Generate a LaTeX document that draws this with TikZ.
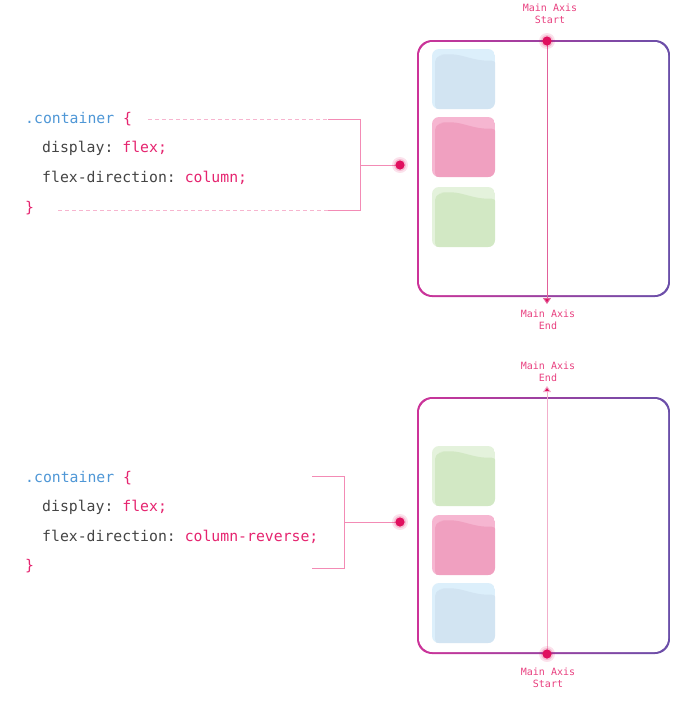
\documentclass[tikz,border=0pt]{standalone}
\usepackage{fontspec}
\setmonofont{DejaVu Sans Mono}
\usetikzlibrary{arrows.meta}
\definecolor{codeblue}{HTML}{4F97D6}
\definecolor{codepink}{HTML}{E5246F}
\definecolor{codegray}{HTML}{444444}
\definecolor{brk}{HTML}{F38BB5}
\definecolor{brkdash}{HTML}{F7B5CF}
\definecolor{lblpink}{HTML}{E8407F}
\definecolor{dotpink}{HTML}{E0105F}
\definecolor{axispink}{HTML}{E2609A}
\definecolor{axislight}{HTML}{F2AECB}
\definecolor{borderL}{HTML}{CC3399}
\definecolor{borderR}{HTML}{6A4FA9}
\definecolor{bluelt}{HTML}{DCEFFB}
\definecolor{bluedk}{HTML}{D2E4F2}
\definecolor{pinklt}{HTML}{F6B6D1}
\definecolor{pinkdk}{HTML}{F0A0C0}
\definecolor{greenlt}{HTML}{E4F2DC}
\definecolor{greendk}{HTML}{D2E8C4}
\tikzset{
  code/.style={anchor=base west, inner sep=0pt, font=\fontsize{14.8}{17}\selectfont\ttfamily, text=codegray},
  axlabel/.style={align=center, inner sep=0pt, font=\fontsize{10}{12.5}\selectfont\ttfamily, text=lblpink},
  brkline/.style={draw=brk, line width=1pt},
  brkdashed/.style={draw=brkdash, line width=1pt, dash pattern=on 4pt off 3pt},
  axisline/.style={line width=1pt},
  axtip/.style={-{Triangle[width=8pt,length=6pt,fill=dotpink]}},
}
\newcommand\flexitem[4]{%
  \begin{scope}
    \clip[rounded corners=7pt] (#1,#2) rectangle ++(63,60);
    \fill[#3] (#1,#2) rectangle ++(63,60);
    \fill[#4, rounded corners=5pt] (#1+3,#2+61) -- (#1+3,#2+8) -- (#1+12,#2+5.5) -- (#1+14,#2+5.5) -- (#1+14.01,#2+5.5)
      .. controls (#1+30,#2+5) and (#1+44,#2+13) .. (#1+64,#2+11) -- (#1+64,#2+61) -- cycle;
  \end{scope}}
\newcommand\flexbox[2]{%
  \shade[left color=borderL, right color=borderR, rounded corners=15pt] (#1,#2) rectangle ++(253,257);
  \fill[white, rounded corners=13.5pt] (#1+2,#2+2) rectangle ++(249,253);}
\newcommand\glowdot[2]{%
  \fill[dotpink, opacity=0.12] (#1,#2) circle (8pt);
  \fill[dotpink, opacity=0.18] (#1,#2) circle (6pt);
  \fill[dotpink] (#1,#2) circle (4.6pt);}
\begin{document}
\begin{tikzpicture}[x=1pt, y=-1pt]
\useasboundingbox (0,0) rectangle (686,702);
% ---------------- top figure ----------------
\flexbox{417}{40}
\flexitem{432}{49}{bluelt}{bluedk}
\flexitem{432}{117}{pinklt}{pinkdk}
\flexitem{432}{187}{greenlt}{greendk}
\coordinate (ta) at (547,41);
\coordinate (tb) at (547,304);
\draw[axisline, draw=axispink, axtip] (ta) -- (tb);
\glowdot{547}{41}
\node[axlabel] (tls) at (550,14) {Main Axis\\Start};
\node[axlabel] (tle) at (548,320) {Main Axis\\End};
\node[code] (t1) at (25,123) {\textcolor{codeblue}{.container} \textcolor{codepink}{\{}};
\node[code] (t2) at (42,152) {display: \textcolor{codepink}{flex;}};
\node[code] (t3) at (42,182) {flex-direction: \textcolor{codepink}{column;}};
\node[code] (t4) at (25,212) {\textcolor{codepink}{\}}};
\coordinate (tbr1) at (148,119);
\coordinate (tbr2) at (328,119);
\coordinate (tbr3) at (360,119);
\coordinate (tbr4) at (360,210);
\coordinate (tbr5) at (328,210);
\coordinate (tbr6) at (58,210);
\coordinate (tbm) at (360,165);
\coordinate (tdot) at (400,165);
\draw[brkdashed] (tbr1) -- (tbr2);
\draw[brkdashed] (tbr6) -- (tbr5);
\draw[brkline] (tbr2) -- (tbr3) -- (tbr4) -- (tbr5);
\draw[brkline] (tbm) -- (tdot);
\glowdot{400}{165}
% ---------------- bottom figure ----------------
\flexbox{417}{397}
\flexitem{432}{446}{greenlt}{greendk}
\flexitem{432}{515}{pinklt}{pinkdk}
\flexitem{432}{583}{bluelt}{bluedk}
\coordinate (ba) at (547,654);
\coordinate (bb) at (547,386);
\draw[axisline, draw=axislight, axtip] (ba) -- (bb);
\glowdot{547}{654}
\node[axlabel] (ble) at (548,372) {Main Axis\\End};
\node[axlabel] (bls) at (548,678) {Main Axis\\Start};
\node[code] (b1) at (25,482) {\textcolor{codeblue}{.container} \textcolor{codepink}{\{}};
\node[code] (b2) at (42,511) {display: \textcolor{codepink}{flex;}};
\node[code] (b3) at (42,541) {flex-direction: \textcolor{codepink}{column-reverse;}};
\node[code] (b4) at (25,570) {\textcolor{codepink}{\}}};
\coordinate (bbr1) at (312,476);
\coordinate (bbr2) at (344,476);
\coordinate (bbr3) at (344,568);
\coordinate (bbr4) at (312,568);
\coordinate (bbm) at (344,522);
\coordinate (bdot) at (400,522);
\draw[brkline] (bbr1) -- (bbr2) -- (bbr3) -- (bbr4);
\draw[brkline] (bbm) -- (bdot);
\glowdot{400}{522}
\end{tikzpicture}
\end{document}
